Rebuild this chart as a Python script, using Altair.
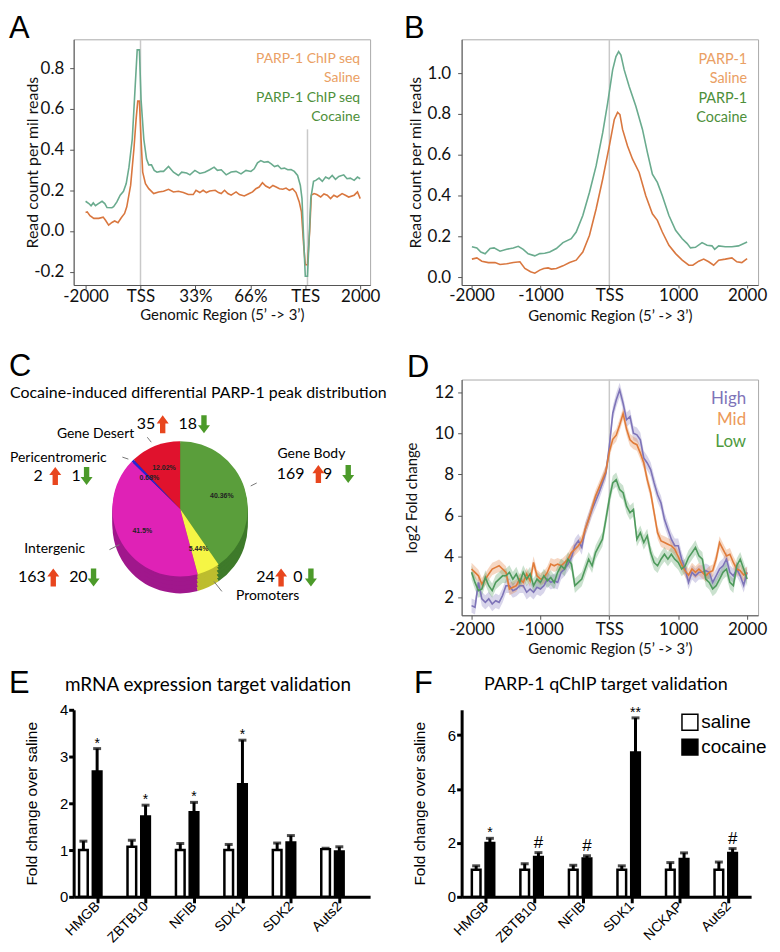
import altair as alt
import pandas as pd

# ======================= DATA =======================
# Panel A: metagene profile, x units 0..5 = -2000, TSS, 33%, 66%, TES, 2000
a_tick_labels = ["-2000", "TSS", "33%", "66%", "TES", "2000"]
a_x_saline = [0.0, 0.03, 0.08, 0.15, 0.24, 0.32, 0.36, 0.42, 0.48, 0.53, 0.59, 0.65, 0.71, 0.75, 0.82, 0.88, 0.92, 0.95, 0.98, 1.01,
              1.04, 1.09, 1.15, 1.24, 1.33, 1.42, 1.51, 1.60, 1.69, 1.78, 1.87, 1.96, 2.01, 2.08, 2.14, 2.20, 2.26, 2.36, 2.42, 2.47,
              2.53, 2.59, 2.65, 2.74, 2.80, 2.89, 2.98, 3.04, 3.10, 3.16, 3.22, 3.28, 3.35, 3.41, 3.47, 3.53, 3.59, 3.65, 3.71, 3.77,
              3.83, 3.89, 3.93, 3.97, 4.00, 4.04, 4.08, 4.11, 4.16, 4.21, 4.28, 4.34, 4.40, 4.46, 4.52, 4.58, 4.67, 4.73, 4.79, 4.89,
              4.95, 5.00]
a_y_saline = [0.091, 0.094, 0.075, 0.062, 0.062, 0.068, 0.054, 0.029, 0.042, 0.049, 0.041, 0.065, 0.086, 0.119, 0.224, 0.403, 0.55, 0.639, 0.639, 0.452,
              0.289, 0.233, 0.208, 0.184, 0.192, 0.195, 0.205, 0.192, 0.195, 0.189, 0.179, 0.179, 0.2, 0.189, 0.2, 0.189, 0.197, 0.2, 0.189, 0.184,
              0.2, 0.184, 0.176, 0.192, 0.179, 0.172, 0.184, 0.192, 0.208, 0.216, 0.237, 0.221, 0.211, 0.224, 0.216, 0.208, 0.205, 0.211, 0.2, 0.208,
              0.189, 0.143, 0.094, -0.068, -0.166, -0.166, 0.0, 0.176, 0.184, 0.179, 0.167, 0.182, 0.176, 0.159, 0.176, 0.167, 0.184, 0.176, 0.167, 0.176,
              0.192, 0.159]
a_x_cocaine = [0.0, 0.06, 0.10, 0.14, 0.18, 0.22, 0.30, 0.35, 0.39, 0.48, 0.51, 0.57, 0.63, 0.69, 0.74, 0.79, 0.85, 0.89, 0.94, 0.98,
               1.01, 1.06, 1.11, 1.15, 1.20, 1.25, 1.30, 1.36, 1.42, 1.51, 1.60, 1.69, 1.75, 1.84, 1.90, 1.99, 2.08, 2.17, 2.26, 2.34,
               2.40, 2.47, 2.56, 2.65, 2.74, 2.83, 2.92, 3.01, 3.07, 3.13, 3.19, 3.25, 3.32, 3.38, 3.44, 3.50, 3.56, 3.62, 3.68, 3.74,
               3.80, 3.86, 3.91, 3.94, 3.97, 4.00, 4.04, 4.07, 4.10, 4.15, 4.19, 4.25, 4.31, 4.37, 4.43, 4.49, 4.55, 4.61, 4.70, 4.76,
               4.82, 4.89, 4.95, 5.00]
a_y_cocaine = [0.146, 0.135, 0.124, 0.138, 0.124, 0.132, 0.146, 0.135, 0.115, 0.114, 0.119, 0.143, 0.176, 0.195, 0.233, 0.314, 0.452, 0.647, 0.891, 0.891,
               0.647, 0.452, 0.354, 0.325, 0.325, 0.298, 0.289, 0.293, 0.293, 0.317, 0.289, 0.273, 0.289, 0.285, 0.276, 0.298, 0.283, 0.289, 0.301, 0.314,
               0.298, 0.301, 0.276, 0.29, 0.293, 0.281, 0.298, 0.293, 0.306, 0.335, 0.346, 0.338, 0.341, 0.33, 0.317, 0.322, 0.306, 0.309, 0.301, 0.302,
               0.293, 0.273, 0.224, 0.159, -0.036, -0.223, -0.223, -0.036, 0.159, 0.244, 0.249, 0.26, 0.244, 0.265, 0.257, 0.273, 0.254, 0.268, 0.276, 0.257,
               0.26, 0.249, 0.265, 0.257]
a_guide_x = [1.0, 4.04]        # TSS, TES
a_guide_top = [0.943, 0.5]

# Panel B: TSS-centred profile (bp)
b_x_saline = [-1995, -1923, -1851, -1755, -1659, -1587, -1490, -1394, -1298, -1226, -1144, -1082, -1010, -952, -889, -841, -769, -673, -577, -481,
              -385, -288, -192, -96, 0, 72, 120, 154, 192, 264, 337, 433, 529, 625, 697, 769, 865, 962, 1058, 1154,
              1212, 1298, 1370, 1442, 1514, 1587, 1683, 1779, 1851, 1923, 2000]
b_y_saline = [0.088, 0.094, 0.078, 0.071, 0.071, 0.062, 0.065, 0.071, 0.075, 0.042, 0.026, 0.019, 0.034, 0.042, 0.045, 0.039, 0.042, 0.055, 0.071, 0.083,
              0.123, 0.205, 0.334, 0.481, 0.643, 0.773, 0.808, 0.797, 0.724, 0.643, 0.578, 0.513, 0.399, 0.310, 0.278, 0.221, 0.156, 0.115, 0.083, 0.058,
              0.058, 0.078, 0.088, 0.075, 0.058, 0.083, 0.088, 0.094, 0.075, 0.071, 0.091]
b_x_cocaine = [-1995, -1923, -1865, -1803, -1731, -1673, -1587, -1490, -1394, -1322, -1250, -1178, -1082, -1010, -938, -865, -769, -673, -553, -481,
               -385, -288, -192, -96, -24, 48, 96, 135, 168, 216, 288, 385, 481, 553, 625, 697, 769, 865, 962, 1058,
               1130, 1178, 1250, 1346, 1418, 1490, 1529, 1587, 1683, 1779, 1875, 2000]
b_y_cocaine = [0.149, 0.143, 0.123, 0.114, 0.140, 0.143, 0.127, 0.136, 0.143, 0.151, 0.136, 0.114, 0.104, 0.115, 0.117, 0.123, 0.140, 0.169, 0.188, 0.221,
               0.302, 0.416, 0.545, 0.708, 0.854, 1.016, 1.081, 1.106, 1.089, 1.016, 0.935, 0.838, 0.724, 0.610, 0.505, 0.464, 0.399, 0.302, 0.229, 0.188,
               0.164, 0.143, 0.146, 0.169, 0.156, 0.153, 0.136, 0.153, 0.149, 0.149, 0.153, 0.172]
b_tick_values = [-2000, -1000, 0, 1000, 2000]
b_guide_x = [0]

# Panel C: pie of differential peaks
c_categories = ["Gene Body", "Promoters", "Intergenic", "Pericentromeric", "Gene Desert"]
c_percent = [40.36, 5.44, 41.5, 0.68, 12.02]
c_percent_labels = ["40.36%", "5.44%", "41.5%", "0.68%", "12.02%"]
c_up = [169, 24, 163, 2, 35]
c_down = [9, 0, 20, 1, 18]

# Panel D: log2 fold change by expression group
d_x = list(range(-2000, 2001, 50))
d_high = [1.61, 1.53, 2.74, 1.94, 1.77, 1.94, 1.69, 1.85, 1.77, 2.10,
          2.58, 2.58, 2.34, 2.42, 2.58, 2.58, 2.26, 2.42, 2.26, 2.50,
          2.42, 2.58, 2.90, 2.74, 2.82, 2.74, 3.23, 3.39, 3.63, 3.95,
          4.52, 4.76, 4.44, 5.32, 5.81, 6.29, 6.69, 7.10, 7.58, 8.06,
          9.35, 10.97, 11.61, 12.10, 11.45, 10.65, 10.81, 10.00, 9.92, 9.68,
          8.80, 8.55, 8.23, 7.58, 7.00, 6.60, 5.81, 5.32, 4.84, 4.52,
          4.52, 3.87, 3.39, 2.74, 3.23, 3.06, 3.23, 3.23, 3.31, 3.23,
          2.74, 3.06, 3.39, 3.55, 3.87, 3.23, 3.06, 3.39, 3.06, 2.60,
          3.23]
d_mid = [3.39, 3.23, 3.06, 2.66, 2.90, 3.15, 3.39, 3.47, 3.55, 3.39,
         3.23, 2.42, 2.50, 2.58, 2.90, 2.74, 3.15, 2.82, 3.71, 3.06,
         2.90, 2.98, 3.23, 3.63, 3.55, 3.63, 3.55, 3.71, 3.87, 4.19,
         4.35, 4.52, 4.76, 5.32, 5.81, 6.37, 6.94, 7.34, 7.74, 8.15,
         9.10, 9.70, 9.90, 10.40, 10.95, 10.20, 9.68, 9.52, 9.44, 9.03,
         8.55, 7.74, 7.10, 6.13, 5.16, 4.76, 4.68, 4.60, 4.52, 4.35,
         4.00, 3.60, 3.30, 3.10, 3.39, 3.23, 3.39, 3.23, 3.06, 3.23,
         3.31, 3.87, 4.68, 4.35, 4.03, 4.11, 3.71, 3.39, 3.31, 3.10,
         3.20]
d_low = [3.23, 2.74, 2.34, 2.42, 2.98, 2.58, 2.34, 2.74, 2.90, 3.06,
         3.06, 3.23, 2.90, 3.15, 2.74, 3.23, 2.90, 3.15, 2.58, 2.90,
         2.74, 3.06, 2.82, 2.98, 2.74, 3.23, 3.55, 3.39, 3.87, 3.63,
         2.58, 2.74, 2.90, 3.39, 3.87, 3.55, 4.19, 4.52, 4.84, 5.81,
         6.80, 7.58, 7.74, 7.26, 7.10, 6.45, 6.13, 6.29, 4.84, 5.16,
         4.68, 5.00, 4.19, 3.71, 3.55, 3.87, 4.11, 3.87, 4.11, 3.87,
         3.71, 3.39, 3.55, 3.95, 4.19, 4.44, 4.03, 3.87, 2.90, 2.74,
         2.42, 2.58, 2.90, 3.23, 3.39, 2.74, 2.58, 3.55, 3.87, 3.39,
         2.90]
d_ci = {"High": 0.35, "Mid": 0.30, "Low": 0.35}
d_tick_values = [-2000, -1000, 0, 1000, 2000]

# Panel E: mRNA expression
e_genes = ["HMGB", "ZBTB10", "NFIB", "SDK1", "SDK2", "Auts2"]
e_saline = [1.0, 1.07, 1.0, 1.0, 1.0, 1.02]
e_saline_err = [0.19, 0.14, 0.14, 0.12, 0.15, 0.02]
e_cocaine = [2.68, 1.72, 1.81, 2.41, 1.16, 0.97]
e_cocaine_err = [0.49, 0.24, 0.21, 0.94, 0.15, 0.10]
e_sig = ["*", "*", "*", "*", "", ""]

# Panel F: qChIP
f_genes = ["HMGB", "ZBTB10", "NFIB", "SDK1", "NCKAP", "Auts2"]
f_saline = [1.0, 1.0, 1.0, 1.0, 1.0, 1.0]
f_saline_err = [0.15, 0.23, 0.17, 0.15, 0.27, 0.29]
f_cocaine = [2.0, 1.48, 1.42, 5.36, 1.40, 1.63]
f_cocaine_err = [0.17, 0.16, 0.10, 1.28, 0.23, 0.16]
f_sig = ["*", "#", "#", "**", "", "#"]

assert len(a_x_saline) == len(a_y_saline) and len(a_x_cocaine) == len(a_y_cocaine)
assert len(b_x_saline) == len(b_y_saline) and len(b_x_cocaine) == len(b_y_cocaine)
assert len(d_x) == len(d_high) == len(d_mid) == len(d_low)

# ======================= STYLE =======================
FONT_C = "Lato"
FONT_A = "Liberation Sans"
ORANGE_LINE = "#d9773f"
GREEN_LINE = "#6aab8e"
ORANGE_TXT = "#eaa064"
GREEN_TXT = "#4d8f3a"
GUIDE = "#c9c9c9"
FRAME = alt.ViewBackground(stroke="#a9a9a9", strokeWidth=1)

LINE_AX = dict(grid=False, domainColor="#555555", tickColor="#555555", tickSize=4,
               labelFont=FONT_C, labelFontSize=17, labelColor="#111111",
               titleFont=FONT_C, titleFontSize=16, titleFontWeight="normal", titleColor="#111111")


def ax(**kw):
    d = dict(LINE_AX)
    d.update(kw)
    return alt.Axis(**d)


def label(text, x, y, size=14, color="black", align="center", baseline="middle", font=FONT_C, weight="normal"):
    return alt.Chart(pd.DataFrame({"t": [text]})).mark_text(
        align=align, baseline=baseline, fontSize=size, color=color, font=font, fontWeight=weight
    ).encode(x=alt.value(x), y=alt.value(y), text="t:N")


def letter(ch, x, y):
    return label(ch, x, y, size=31, align="left", baseline="alphabetic", font=FONT_A)


def segment(x1, y1, x2, y2, color="#777777", width=1):
    return alt.Chart(pd.DataFrame({"d": [1]})).mark_rule(color=color, strokeWidth=width).encode(
        x=alt.value(x1), y=alt.value(y1), x2=alt.value(x2), y2=alt.value(y2))


def tick_expr(values, labels):
    parts = [f"datum.value == {v} ? '{l}'" for v, l in zip(values, labels)]
    return " : ".join(parts) + " : ''"


def signed_expr(fmt):
    return f"datum.value < 0 ? '-' + format(-datum.value, '{fmt}') : format(datum.value, '{fmt}')"


BP_EXPR = "datum.value == 0 ? 'TSS' : (datum.value < 0 ? '-' + format(-datum.value, 'd') : format(datum.value, 'd'))"
GENOMIC = "Genomic Region (5\u2019 -> 3\u2019)"

ROW1_H, ROW2_H, ROW3_H = 247, 237, 188
COL1_W = 298

# ======================= PANEL A =======================
a_df = pd.concat([pd.DataFrame({"x": a_x_saline, "y": a_y_saline, "s": "Saline"}),
                  pd.DataFrame({"x": a_x_cocaine, "y": a_y_cocaine, "s": "Cocaine"})])
a_guides = pd.DataFrame({"x": a_guide_x, "y": a_guide_top})
xA = alt.X("x:Q", scale=alt.Scale(domain=[-0.217, 5.18], nice=False, zero=False),
           axis=ax(values=[0, 1, 2, 3, 4, 5], labelExpr=tick_expr(range(6), a_tick_labels), labelPadding=0,
                   title=GENOMIC, titleFontSize=15, titlePadding=3))
yA = alt.Y("y:Q", scale=alt.Scale(domain=[-0.266, 0.943], nice=False, zero=False),
           axis=ax(values=[-0.2, 0, 0.2, 0.4, 0.6, 0.8], labelExpr=signed_expr(".1f"), labelPadding=6,
                   title="Read count per mil reads", titleX=-33))
line_color = alt.Color("s:N", scale=alt.Scale(domain=["Saline", "Cocaine"], range=[ORANGE_LINE, GREEN_LINE]), legend=None)
panel_a = alt.layer(
    alt.Chart(a_guides).mark_rule(color=GUIDE, strokeWidth=1.5).encode(x=xA, y=yA, y2=alt.value(ROW1_H)),
    alt.Chart(a_df).mark_line(strokeWidth=1.6).encode(x=xA, y=yA, color=line_color),
    label("PARP-1 ChIP seq", 288, 20, 14, ORANGE_TXT, align="right"),
    label("Saline", 288, 39, 14, ORANGE_TXT, align="right"),
    label("PARP-1 ChIP seq", 288, 59, 14, GREEN_TXT, align="right"),
    label("Cocaine", 288, 78, 14, GREEN_TXT, align="right"),
    letter("A", -65, -1),
).properties(width=COL1_W, height=ROW1_H, view=FRAME)

# ======================= PANEL B =======================
b_df = pd.concat([pd.DataFrame({"x": b_x_saline, "y": b_y_saline, "s": "Saline"}),
                  pd.DataFrame({"x": b_x_cocaine, "y": b_y_cocaine, "s": "Cocaine"})])
b_guides = pd.DataFrame({"x": b_guide_x, "y": [1.166]})
xB = alt.X("x:Q", scale=alt.Scale(domain=[-2144, 2159], nice=False, zero=False),
           axis=ax(values=b_tick_values, labelExpr=BP_EXPR, labelPadding=0, tickSize=3,
                   title=GENOMIC, titleFontSize=15, titlePadding=5))
yB = alt.Y("y:Q", scale=alt.Scale(domain=[-0.039, 1.166], nice=False, zero=False),
           axis=ax(values=[0, 0.2, 0.4, 0.6, 0.8, 1.0], labelExpr=signed_expr(".1f"), labelPadding=7,
                   title="Read count per mil reads", titleX=-38))
panel_b = alt.layer(
    alt.Chart(b_guides).mark_rule(color=GUIDE, strokeWidth=1.5).encode(x=xB, y=yB, y2=alt.value(ROW1_H)),
    alt.Chart(b_df).mark_line(strokeWidth=1.6).encode(x=xB, y=yB, color=line_color),
    label("PARP-1", 287, 21, 14.5, ORANGE_TXT, align="right"),
    label("Saline", 287, 40, 14.5, ORANGE_TXT, align="right"),
    label("PARP-1", 287, 60, 14.5, GREEN_TXT, align="right"),
    label("Cocaine", 287, 79, 14.5, GREEN_TXT, align="right"),
    letter("B", -58, -1),
).properties(width=298, height=ROW1_H, view=FRAME)

# ======================= PANEL C =======================
PIE_X, PIE_Y, PIE_R = 107, 130, 68
C_TOP = ["#5a9e3b", "#f5f545", "#df22b6", "#2626d6", "#e0122d"]
C_SIDE = ["#3e7a2a", "#bdbd2e", "#a0178c", "#18189a", "#a00b1f"]
pie_df = pd.DataFrame({"cat": c_categories, "pct": c_percent, "lab": c_percent_labels,
                       "ord": list(range(len(c_categories))), "top": C_TOP, "side": C_SIDE})
theta = alt.Theta("pct:Q", stack=True)
order = alt.Order("ord:Q")
pie_layers = []
for off in (17, 13, 9, 5, 2):
    pie_layers.append(alt.Chart(pie_df).mark_arc(outerRadius=PIE_R).encode(
        theta=theta, order=order, color=alt.Color("side:N", scale=None),
        x=alt.value(PIE_X), y=alt.value(PIE_Y + off)))
pie_layers.append(alt.Chart(pie_df).mark_arc(outerRadius=PIE_R).encode(
    theta=theta, order=order, color=alt.Color("top:N", scale=None), x=alt.value(PIE_X), y=alt.value(PIE_Y)))
pie_layers.append(alt.Chart(pie_df).mark_text(radius=44, fontSize=7, fontWeight="bold", font=FONT_A, color="#222222").encode(
    theta=theta, order=order, text="lab:N", x=alt.value(PIE_X), y=alt.value(PIE_Y)))

UP_PATH = "M -0.3 1 L -0.3 -0.1 L -0.67 -0.1 L 0 -1 L 0.67 -0.1 L 0.3 -0.1 L 0.3 1 Z"
DOWN_PATH = "M -0.3 -1 L -0.3 0.1 L -0.67 0.1 L 0 1 L 0.67 0.1 L 0.3 0.1 L 0.3 -1 Z"


def arrow(x, y, up):
    return alt.Chart(pd.DataFrame({"d": [1]})).mark_point(
        shape=UP_PATH if up else DOWN_PATH, filled=True, size=324, opacity=1, strokeWidth=0,
        color="#e8461e" if up else "#4c9a2a").encode(x=alt.value(x), y=alt.value(y))


# label layout (pixels, relative to panel C plot origin)
c_name_pos = {"Gene Body": (239, 75, "center"), "Promoters": (195, 218, "center"), "Intergenic": (-19, 170, "center"),
              "Pericentromeric": (-64, 79, "left"), "Gene Desert": (22, 55, "center")}
c_count_pos = {"Gene Body": (95, 232, 246, 260, 276), "Promoters": (199, 202, 208.5, 230, 238.5),
               "Intergenic": (199, -28, -20.5, 14, 20), "Pericentromeric": (97, -31, -18.5, 7, 13),
               "Gene Desert": (45, 82, 89.5, 124, 131)}
c_leaders = [(178, 107, 184, 104), (46, 166, 36, 171), (141, 203, 149, 213), (78, 63, 74, 58), (55, 80, 49, 78)]
c_layers = []
for cat, up, down in zip(c_categories, c_up, c_down):
    nx, ny, nal = c_name_pos[cat]
    c_layers.append(label(cat, nx, ny, 14, align=nal))
    cy, ux, uax, dx_, dax = c_count_pos[cat]
    c_layers.append(label(str(up), ux, cy, 16, align="right"))
    c_layers.append(arrow(uax, cy, True))
    c_layers.append(label(str(down), dx_, cy, 16, align="right"))
    c_layers.append(arrow(dax, cy, False))
for seg in c_leaders:
    c_layers.append(segment(*seg))

panel_c = alt.layer(
    *pie_layers, *c_layers,
    label("Cocaine-induced differential PARP-1 peak distribution", -64, 14, 16, align="left"),
    letter("C", -65, -4),
).properties(width=COL1_W, height=ROW2_H)

# ======================= PANEL D =======================
d_rows = []
for name, vals in (("High", d_high), ("Mid", d_mid), ("Low", d_low)):
    for xv, v in zip(d_x, vals):
        d_rows.append({"x": xv, "y": v, "lo": v - d_ci[name], "hi": v + d_ci[name], "s": name})
d_df = pd.DataFrame(d_rows)
d_guides = pd.DataFrame({"x": [0], "y": [12.61]})
D_COLORS = ["#7e74b8", "#e07b39", "#4e9a5c"]
xD = alt.X("x:Q", scale=alt.Scale(domain=[-2144, 2159], nice=False, zero=False),
           axis=ax(values=d_tick_values, labelExpr=BP_EXPR, labelPadding=2,
                   title=GENOMIC, titleFontSize=15, titlePadding=4))


def yD(f):
    return alt.Y(f"{f}:Q", scale=alt.Scale(domain=[1.14, 12.61], nice=False, zero=False),
                 axis=ax(values=[2, 4, 6, 8, 10, 12], format="d", labelPadding=4,
                         title="log2 Fold change", titleX=-42, titleFontSize=15))


d_color = alt.Color("s:N", scale=alt.Scale(domain=["High", "Mid", "Low"], range=D_COLORS), legend=None)
panel_d = alt.layer(
    alt.Chart(d_guides).mark_rule(color=GUIDE, strokeWidth=1.5).encode(x=xD, y=yD("y"), y2=alt.value(ROW2_H)),
    alt.Chart(d_df).mark_area(opacity=0.3).encode(x=xD, y=yD("lo"), y2="hi:Q", color=d_color),
    alt.Chart(d_df).mark_line(strokeWidth=1.6).encode(x=xD, y=yD("y"), color=d_color),
    label("High", 286, 20, 17, "#7e74b8", align="right"),
    label("Mid", 286, 41, 17, "#ec9a5a", align="right"),
    label("Low", 286, 63, 17, "#4e9a3e", align="right"),
    letter("D", -55, -3),
).properties(width=298, height=ROW2_H, view=FRAME)


# ======================= PANELS E / F =======================
def bar_panel(genes, sal, sal_err, coc, coc_err, sig, W, H, ymax, yticks, pad_in, pad_out, band_align,
              sub_pad, tick_off, title_x, legend, title, title_size, title_xy, letter_xy, letter_ch):
    n = len(genes)
    df = pd.DataFrame({
        "gene": list(genes) * 2,
        "cond": ["saline"] * n + ["cocaine"] * n,
        "v": list(sal) + list(coc),
        "top": [a + b for a, b in zip(sal, sal_err)] + [a + b for a, b in zip(coc, coc_err)],
        "sig": [""] * n + list(sig),
    })
    X = alt.X("gene:N", sort=list(genes),
              scale=alt.Scale(paddingInner=pad_in, paddingOuter=pad_out, align=band_align),
              axis=alt.Axis(title=None, labelAngle=315, labelAlign="right", labelBaseline="middle",
                            labelFont=FONT_A, labelFontSize=14, labelColor="black", labelPadding=1,
                            tickSize=6, tickWidth=3, tickColor="black", domainColor="black", domainWidth=3,
                            tickOffset=tick_off, grid=False))
    XO = alt.XOffset("cond:N", sort=["saline", "cocaine"], scale=alt.Scale(paddingInner=sub_pad, paddingOuter=0))

    def Y(f):
        return alt.Y(f"{f}:Q", scale=alt.Scale(domain=[0, ymax], nice=False, zero=True),
                     axis=alt.Axis(values=yticks, title="Fold change over saline", titleFont=FONT_A,
                                   titleFontSize=15.5, titleFontWeight="normal", titleColor="black", titleX=title_x,
                                   labelFont=FONT_A, labelFontSize=15, labelColor="black", labelPadding=1,
                                   tickSize=5, tickWidth=3, tickColor="black", domainColor="black",
                                   domainWidth=3, grid=False))

    color = alt.Color("cond:N", scale=alt.Scale(domain=["saline", "cocaine"], range=["white", "black"]),
                      legend=legend)
    return alt.layer(
        alt.Chart(df).mark_rule(strokeWidth=3, color="black").encode(x=X, xOffset=XO, y=Y("v"), y2="top:Q"),
        alt.Chart(df).mark_tick(thickness=3, size=8, color="black").encode(x=X, xOffset=XO, y=Y("top")),
        alt.Chart(df).mark_bar(stroke="black", strokeWidth=2.5).encode(x=X, xOffset=XO, y=Y("v"), color=color),
        alt.Chart(df).transform_filter("datum.sig == '*' || datum.sig == '**'").mark_text(
            baseline="alphabetic", dy=-1, fontSize=14, font=FONT_A, color="black").encode(
            x=X, xOffset=XO, y=Y("top"), text="sig:N"),
        alt.Chart(df).transform_filter("datum.sig == '#'").mark_text(
            baseline="alphabetic", dy=-5, fontSize=17, font=FONT_A, color="black").encode(
            x=X, xOffset=XO, y=Y("top"), text="sig:N"),
        label(title, title_xy[0], title_xy[1], title_size),
        letter(letter_ch, letter_xy[0], letter_xy[1]),
    ).properties(width=W, height=H)


panel_e = bar_panel(e_genes, e_saline, e_saline_err, e_cocaine, e_cocaine_err, e_sig,
                    COL1_W, ROW3_H, 4, [0, 1, 2, 3, 4], 0.538, 0.329, 0.17, 0.37, 7, -34, None,
                    "mRNA expression target validation", 19, (135, -25), (-65, -17), "E")

f_legend = alt.Legend(orient="none", legendX=220, legendY=3, title=None, symbolType="square", symbolSize=256,
                      symbolStrokeColor="black", symbolStrokeWidth=1.5, labelFont=FONT_A, labelFontSize=19,
                      labelColor="black", labelOffset=2, rowPadding=2)
panel_f = bar_panel(f_genes, f_saline, f_saline_err, f_cocaine, f_cocaine_err, f_sig,
                    291, ROW3_H, 6.94, [0, 2, 4, 6], 0.426, 0.195, 0.54, 0.30, 0, -34, f_legend,
                    "PARP-1 qChIP target validation", 18, (145, -25), (-48, -17), "F")

chart = alt.concat(panel_a, panel_b, panel_c, panel_d, panel_e, panel_f,
                   columns=2, spacing={"row": 95, "column": 92}, bounds="flush", align="each"
                   ).resolve_scale(color="independent"
                   ).properties(padding={"left": 0, "top": 2, "right": 4, "bottom": 2}
                   ).configure_view(strokeWidth=0)

chart.save("out.html", embed_options={"renderer": "svg", "actions": False})
